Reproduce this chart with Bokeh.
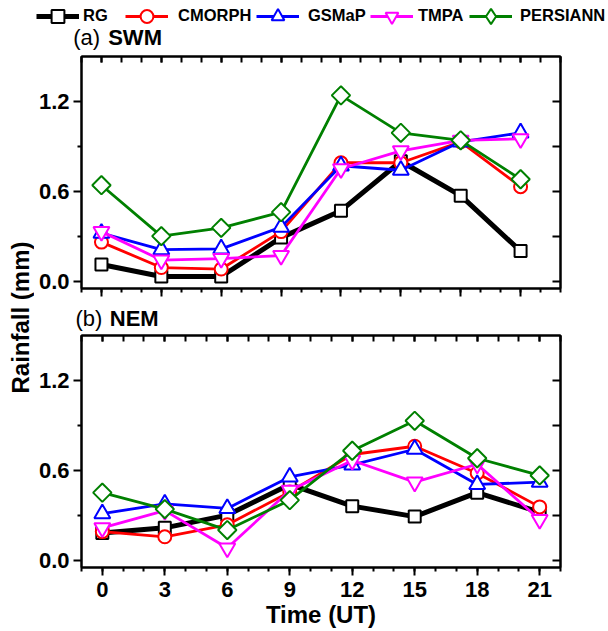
import math
from bokeh.plotting import figure
from bokeh.models import (Range1d, LinearAxis, FixedTicker, PrintfTickFormatter,
                          Label, Legend, LegendItem)
from bokeh.layouts import column, row
from bokeh.embed import file_html
from bokeh.resources import INLINE

# ---------------- data ----------------
hours = [0, 3, 6, 9, 12, 15, 18, 21]
x_ticks = [0, 3, 6, 9, 12, 15, 18, 21]
y_ticks = [0.0, 0.6, 1.2]
y_minor = [0.3, 0.9]
names = ["RG", "CMORPH", "GSMaP", "TMPA", "PERSIANN"]

# (a) SWM
swm_rg = [0.11, 0.03, 0.03, 0.29, 0.47, 0.80, 0.57, 0.20]
swm_cmorph = [0.26, 0.09, 0.08, 0.33, 0.79, 0.79, 0.93, 0.63]
swm_gsmap = [0.32, 0.21, 0.215, 0.36, 0.77, 0.74, 0.93, 0.99]
swm_tmpa = [0.33, 0.14, 0.15, 0.17, 0.75, 0.87, 0.94, 0.95]
swm_persiann = [0.64, 0.30, 0.355, 0.46, 1.24, 0.99, 0.94, 0.68]

# (b) NEM
nem_rg = [0.18, 0.215, 0.30, 0.505, 0.36, 0.29, 0.45, 0.32]
nem_cmorph = [0.19, 0.155, 0.235, 0.455, 0.705, 0.76, 0.58, 0.355]
nem_gsmap = [0.31, 0.375, 0.345, 0.555, 0.635, 0.74, 0.505, 0.52]
nem_tmpa = [0.215, 0.33, 0.08, 0.465, 0.665, 0.52, 0.64, 0.27]
nem_persiann = [0.45, 0.34, 0.20, 0.40, 0.73, 0.93, 0.68, 0.565]

swm = [swm_rg, swm_cmorph, swm_gsmap, swm_tmpa, swm_persiann]
nem = [nem_rg, nem_cmorph, nem_gsmap, nem_tmpa, nem_persiann]

# ---------------- styles ----------------
colors = ["black", "#FF0000", "#0000FF", "#FF00FF", "#008000"]
markers = ["square", "circle", "triangle", "inverted_triangle", "square"]
legend_markers = ["square", "circle", "triangle", "inverted_triangle", "diamond"]
angles = [0, 0, 0, 0, math.pi / 4]
msizes = [12, 13, 16, 16, 13]
lwidths = [5, 2.8, 2.8, 2.8, 2.8]
FONT = "Liberation Sans"
LEFT = 34          # width of the y-label strip
PW = 608 - LEFT    # width of the panels


def add_series(p, ys):
    for i, name in enumerate(names):
        p.line(hours, ys[i], line_color=colors[i], line_width=lwidths[i])
        p.scatter(hours, ys[i], marker=markers[i], angle=angles[i], size=msizes[i],
                  line_color=colors[i], fill_color="white", line_width=2)


def hide_labels(ax):
    ax.major_label_text_font_size = "1px"
    ax.major_label_text_color = None
    ax.major_label_standoff = 0


def style_panel(p, x_end, show_xlabels):
    p.grid.visible = False
    p.outline_line_color = "black"
    p.outline_line_width = 2
    xminor = list(range(-1, x_end + 1))
    xa = p.xaxis[0]
    xa.ticker = FixedTicker(ticks=x_ticks, minor_ticks=xminor)
    xa.axis_line_width = 2
    xa.major_tick_line_width = 2
    xa.minor_tick_line_width = 2
    xa.major_tick_in = 0
    xa.major_tick_out = 8
    xa.minor_tick_in = 0
    xa.minor_tick_out = 4
    if show_xlabels:
        xa.major_label_text_font = FONT
        xa.major_label_text_font_style = "bold"
        xa.major_label_text_font_size = "22px"
        xa.major_label_text_color = "black"
        xa.major_label_standoff = 6
        xa.axis_label = "Time (UT)"
        xa.axis_label_text_font = FONT
        xa.axis_label_text_font_style = "bold"
        xa.axis_label_text_font_size = "24px"
        xa.axis_label_text_color = "black"
        xa.axis_label_standoff = 1
    else:
        hide_labels(xa)
    ya = p.yaxis[0]
    ya.ticker = FixedTicker(ticks=y_ticks, minor_ticks=y_minor)
    ya.formatter = PrintfTickFormatter(format="%.1f")
    ya.axis_line_width = 2
    ya.major_tick_line_width = 2
    ya.minor_tick_line_width = 2
    ya.major_tick_in = 0
    ya.major_tick_out = 8
    ya.minor_tick_in = 0
    ya.minor_tick_out = 4
    ya.major_label_text_font = FONT
    ya.major_label_text_font_style = "bold"
    ya.major_label_text_font_size = "22px"
    ya.major_label_text_color = "black"
    ya.major_label_standoff = 4
    top = LinearAxis(ticker=FixedTicker(ticks=x_ticks, minor_ticks=xminor),
                     major_tick_in=6, major_tick_out=0, minor_tick_in=6, minor_tick_out=0,
                     axis_line_width=2, major_tick_line_width=2, minor_tick_line_width=2)
    hide_labels(top)
    p.add_layout(top, "above")
    right = LinearAxis(ticker=FixedTicker(ticks=y_ticks, minor_ticks=y_minor),
                       major_tick_in=8, major_tick_out=0, minor_tick_in=8, minor_tick_out=0,
                       axis_line_width=2, major_tick_line_width=2, minor_tick_line_width=2)
    hide_labels(right)
    p.add_layout(right, "right")


def strip(width, height):
    s = figure(width=width, height=height, x_range=Range1d(0, width),
               y_range=Range1d(height, 0), x_axis_location=None, y_axis_location=None,
               min_border=0, output_backend="svg", toolbar_location=None)
    s.outline_line_color = None
    s.grid.visible = False
    s.frame_align = False
    return s


def add_title(s, tag, name, x_tag, x_name, y):
    s.add_layout(Label(x=x_tag, y=y, text=tag, text_font=FONT, text_font_size="22px",
                       text_color="black", text_baseline="middle"))
    s.add_layout(Label(x=x_name, y=y, text=name, text_font=FONT, text_font_size="22px",
                       text_font_style="bold", text_color="black",
                       text_baseline="middle"))


# ---------------- panels ----------------
p1 = figure(width=PW, height=243, x_range=Range1d(-1, 23), y_range=Range1d(-0.05, 1.5),
            output_backend="svg", toolbar_location=None,
            min_border_left=81 - LEFT, min_border_right=48, min_border_top=1,
            min_border_bottom=10)
style_panel(p1, 23, False)
add_series(p1, swm)

mid = strip(PW, 35)
add_title(mid, "(b)", "NEM", 75 - LEFT, 109.3 - LEFT, 20)

p2 = figure(width=PW, height=298, x_range=Range1d(-1, 22), y_range=Range1d(-0.05, 1.5),
            output_backend="svg", toolbar_location=None,
            min_border_left=81 - LEFT, min_border_right=48, min_border_top=2,
            min_border_bottom=64)
style_panel(p2, 22, True)
add_series(p2, nem)

# ---------------- y label strip ----------------
yl = strip(LEFT, 576)
yl.add_layout(Label(x=19.5, y=317 - 55, text="Rainfall (mm)", angle=math.pi / 2,
                    text_align="center", text_baseline="middle", text_font=FONT,
                    text_font_size="24px", text_font_style="bold", text_color="black"))

# ---------------- header: legend + panel (a) title ----------------
hd = strip(608, 55)
add_title(hd, "(a)", "SWM", 72.7, 107.7, 37)
leg_x = [36, 125, 256, 370, 469]
leg_standoff = [4, 10, 9, 5, 8]
leg_gh = [32, 32, 32, 32, 38]
nan = float("nan")
for i, name in enumerate(names):
    # legend proxies (a single NaN point: nothing is drawn in the strip itself)
    lr = hd.line(x=[nan], y=[nan], line_color=colors[i], line_width=lwidths[i])
    sr = hd.scatter(x=[nan], y=[nan], marker=legend_markers[i], size=msizes[i],
                    line_color=colors[i], fill_color="white", line_width=2)
    leg = Legend(items=[LegendItem(label=name, renderers=[lr, sr])],
                 location=(leg_x[i], 55 - 15.7 - leg_gh[i] / 2), orientation="horizontal",
                 glyph_width=43, glyph_height=leg_gh[i], label_standoff=leg_standoff[i],
                 padding=0, margin=0, spacing=0, border_line_color=None,
                 background_fill_alpha=0, label_text_font=FONT,
                 label_text_font_style="bold", label_text_font_size="16.5px",
                 label_text_color="black")
    hd.add_layout(leg, "center")

layout = column(hd, row(yl, column(p1, mid, p2)))

open("out.html", "w").write(file_html(layout, INLINE))
